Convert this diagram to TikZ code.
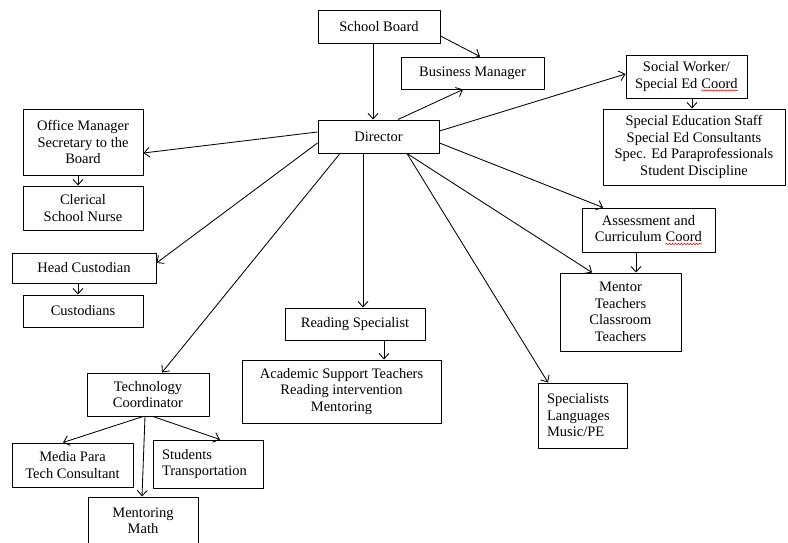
\documentclass[tikz,border=0pt]{standalone}
\usepackage{fontspec}
\setmainfont{Liberation Serif}
\usetikzlibrary{arrows.meta}
\usetikzlibrary{decorations.pathmorphing}
\newcommand{\spellwave}[1]{\tikz[baseline=(w.base)]{\node[draw=none,inner sep=0pt,outer sep=0pt,minimum width=0pt,minimum height=0pt,text width=,align=none] (w) {#1};
        \draw[red,line width=0.6pt,decorate,decoration={snake,amplitude=0.7pt,segment length=3pt}] ([yshift=-2.5pt]w.base west) -- ([yshift=-2.5pt]w.base east);}}

\begin{document}
\begin{tikzpicture}[>={Straight Barb[length=5.5pt,width=10pt]},line join=bevel,x=1pt,y=-1pt,
        box/.style={rectangle,draw,align=center,inner sep=0pt,line width=1pt,font=\fontsize{14.5}{16.5}\selectfont},
        link/.style={color=black,line width=0.85pt,->}]
        \useasboundingbox (0,0) rectangle (788,542);
        \clip (0,0) rectangle (788,542);
        %
        \node[box,minimum width=122,minimum height=33] (board) at (379,26.5) {School Board};
        \node[box,minimum width=143,minimum height=32] (busmgr) at (472.5,73) {Business Manager};
        \node[box,minimum width=121,minimum height=33] (director) at (378.5,136.5) {Director};
        \node[box,minimum width=121,minimum height=43] (socwork) at (686.5,76.5) {Social Worker/\\Special Ed \spellwave{Coord}};
        \node[box,minimum width=182,minimum height=76] (sped) at (694,147) {Special Education Staff\\Special Ed Consultants\\Spec. Ed Paraprofessionals\\Student Discipline};
        \node[box,minimum width=120,minimum height=66] (office) at (83,142) {Office Manager\\Secretary to the\\Board};
        \node[box,minimum width=120,minimum height=44] (clerical) at (83,208) {Clerical\\School Nurse};
        \node[box,minimum width=144,minimum height=30] (headcust) at (84,268) {Head Custodian};
        \node[box,minimum width=120,minimum height=32] (cust) at (83,311) {Custodians};
        \node[box,minimum width=140,minimum height=32] (reading) at (355,324) {Reading Specialist};
        \node[box,minimum width=199,minimum height=63] (academic) at (341.5,391.5) {Academic Support Teachers\\Reading intervention\\Mentoring};
        \node[box,minimum width=122,minimum height=43] (techco) at (148,394.5) {Technology\\Coordinator};
        \node[box,minimum width=121,minimum height=44] (media) at (72.5,465) {Media Para\\Tech Consultant};
        \node[box,align=left,text width=92pt,inner xsep=9pt,minimum height=48] (students) at (208,464) {Students\\Transportation};
        \node[box,minimum width=110,minimum height=48] (mathm) at (143,521) {Mentoring\\Math};
        \node[box,minimum width=133,minimum height=44] (assess) at (648.5,230) {Assessment and\\Curriculum \spellwave{Coord}};
        \node[box,minimum width=121,minimum height=78] (mentor) at (620.5,312) {Mentor\\Teachers\\Classroom\\Teachers};
        \node[box,align=left,text width=71pt,inner xsep=9pt,minimum height=65] (specs) at (582.5,415.5) {Specialists\\Languages\\Music/PE};
        %
        \draw [link] ([xshift=-6pt]board.south) to ([xshift=-5.5pt]director.north);
        \draw [link] ([yshift=-9.5pt]board.east) to ([xshift=7.5pt]busmgr.north);
        \draw [link] ([xshift=19.5pt]director.north) to ([xshift=-9.5pt]busmgr.south);
        \draw [link] ([yshift=5.5pt]director.east) to ([yshift=2.5pt]socwork.west);
        \draw [link] ([xshift=5.5pt]socwork.south) to ([xshift=-2pt]sped.north);
        \draw [link] ([yshift=4.5pt]director.west) to ([yshift=-11pt]office.east);
        \draw [link] ([xshift=-5pt]office.south) to ([xshift=-5pt]clerical.north);
        \draw [link] ([yshift=-6.5pt]director.west) to ([yshift=5pt]headcust.east);
        \draw [link] ([xshift=-6pt]headcust.south) to ([xshift=-5pt]cust.north);
        \draw [link] ([xshift=-38.5pt]director.south) to ([xshift=14pt]techco.north);
        \draw [link] ([xshift=-15.5pt]director.south) to ([xshift=8pt]reading.north);
        \draw [link] ([xshift=29pt]reading.south) to ([xshift=42.5pt]academic.north);
        \draw [link] ([xshift=28.5pt]director.south) to ([xshift=-34.5pt]specs.north);
        \draw [link] ([xshift=28.5pt]director.south) to ([xshift=-28.5pt]mentor.north);
        \draw [link] ([yshift=-6.5pt]director.east) to ([xshift=-45.5pt]assess.north);
        \draw [link] ([xshift=-12.5pt]assess.south) to ([xshift=15.5pt]mentor.north);
        \draw [link] ([xshift=-5pt]techco.south) to ([xshift=-9.5pt]media.north);
        \draw [link] ([xshift=-3pt]techco.south) to ([xshift=-1pt]mathm.north);
        \draw [link] ([xshift=5pt]techco.south) to ([xshift=12pt]students.north);
        %
\end{tikzpicture}
\end{document}
